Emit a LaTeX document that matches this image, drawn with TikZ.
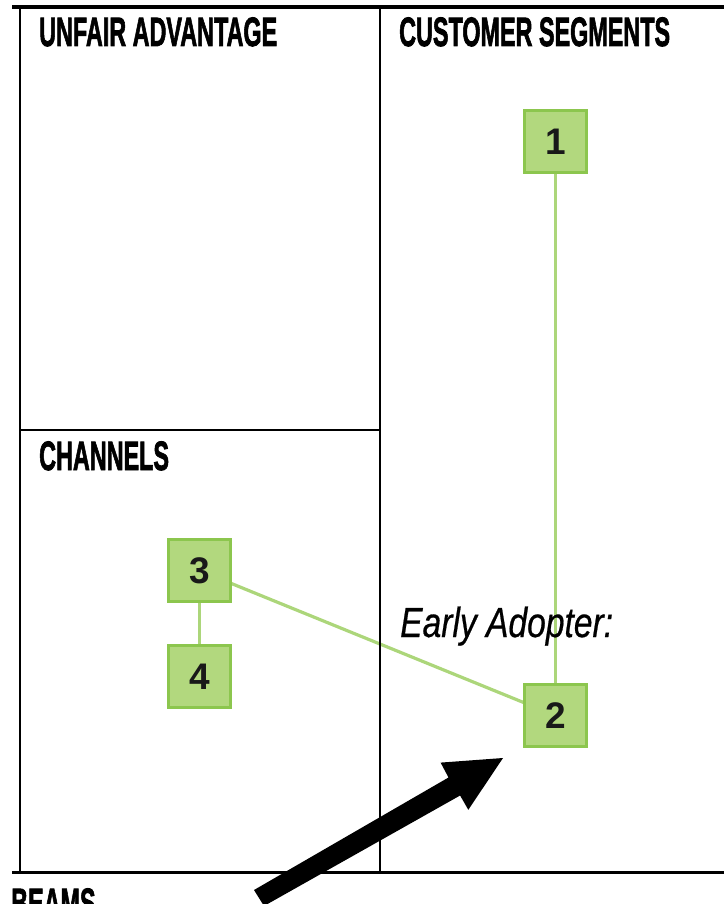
\documentclass[tikz,border=0pt]{standalone}
\usepackage{fontspec}
\setmainfont{Liberation Sans}
\newfontfamily\headfont[FakeBold=2.2]{Liberation Sans Bold}
\newfontfamily\eafont[FakeBold=0.6]{Liberation Sans Italic}
\usetikzlibrary{backgrounds}
\definecolor{boxfill}{RGB}{178,216,126}
\definecolor{boxedge}{RGB}{140,198,78}
\definecolor{linkgreen}{RGB}{172,214,122}
\tikzset{
  frame/.style={line width=2.6pt, black},
  heading/.style={anchor=base west, inner sep=0pt, font=\fontsize{41}{41}\selectfont\headfont},
  numbox/.style={draw=boxedge, fill=boxfill, line width=3pt, minimum width=62pt, minimum height=62pt, inner sep=0pt, font=\fontsize{37}{37}\selectfont\bfseries, text=black!90},
  link/.style={linkgreen, line width=3.2pt},
}
\newcommand{\hd}[1]{\scalebox{0.57}[1]{#1}}
\begin{document}
\begin{tikzpicture}[x=1pt,y=-1pt]
\useasboundingbox (0,0) rectangle (724,904);
\clip (0,0) rectangle (724,904);
% frame
\draw[frame, line width=3.2pt] (12,7) -- (724,7);
\draw[frame] (20,7) -- (20,872);
\draw[frame] (380,7) -- (380,872);
\draw[frame] (20,430) -- (380,430);
\draw[frame, line width=3pt] (12,872) -- (724,872);
% headings
\node[heading] (hua) at (39,46) {\hd{UNFAIR ADVANTAGE}};
\node[heading] (hcs) at (399,46) {\hd{CUSTOMER SEGMENTS}};
\node[heading] (hch) at (39,470) {\hd{CHANNELS}};
\node[heading] (hbe) at (11,917) {\hd{BEAMS}};
% boxes
\node[numbox] (n1) at (555.5,141.5) {1};
\node[numbox] (n2) at (555.5,715.5) {2};
\node[numbox] (n3) at (199.5,570.5) {3};
\node[numbox] (n4) at (199.5,676.5) {4};
\begin{scope}[on background layer]
\draw[link] (n1.center) -- (n2.center);
\draw[link] (n3.center) -- (n2.center);
\draw[link] (n3.center) -- (n4.center);
\end{scope}
% early adopter
\node[anchor=base west, inner sep=0pt] (ea) at (400,637) {\scalebox{0.8}[1]{\fontsize{42}{42}\selectfont\eafont Early Adopter:}};
% arrow
\fill[black] (503,758) -- (440.6,762.6) -- (448.5,777.5) -- (254,890) -- (264,906) -- (460.1,795.5) -- (468.3,809.8) -- cycle;
\end{tikzpicture}
\end{document}
